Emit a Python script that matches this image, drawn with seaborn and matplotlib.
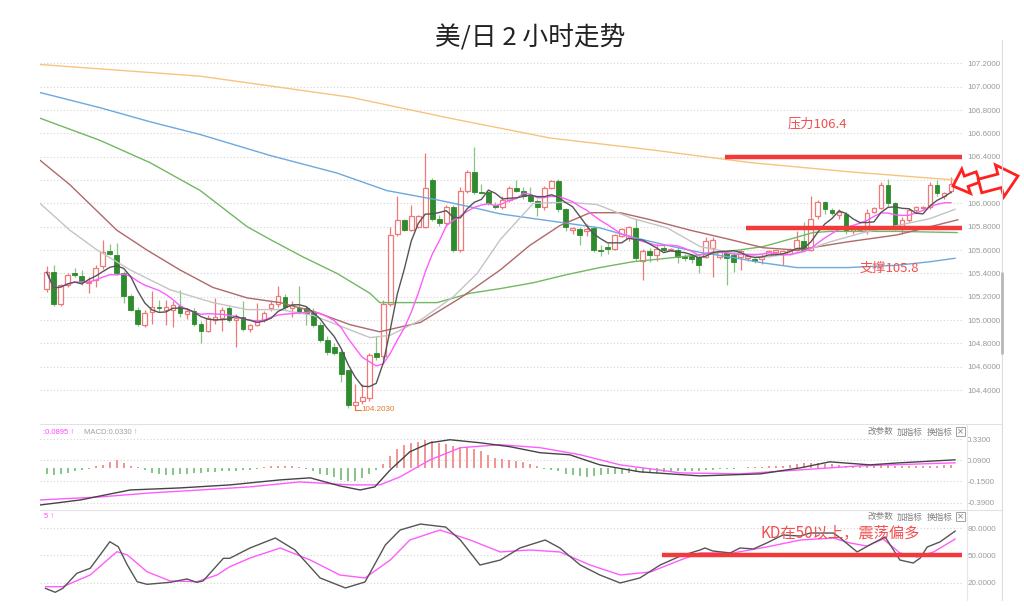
import numpy as np
import pandas as pd
import matplotlib
matplotlib.use("Agg")
import matplotlib.pyplot as plt
from matplotlib.patches import FancyArrow, Rectangle
import seaborn as sns

# ---------------- data ----------------
opens = [105.27,105.41,105.14,105.30,105.40,105.38,105.32,105.34,105.46,105.59,
         105.56,105.40,105.21,105.09,104.96,105.07,105.11,105.09,105.09,105.12,
         105.05,105.08,104.97,104.91,105.00,105.02,105.10,105.00,105.03,104.92,
         104.96,105.00,105.10,105.14,105.20,105.10,105.10,105.10,105.07,104.96,
         104.83,104.77,104.73,104.57,104.27,104.31,104.33,104.72,104.69,105.14,
         105.74,105.86,105.77,105.80,105.80,106.20,105.87,105.83,105.97,105.60,
         106.11,106.27,106.10,106.10,105.99,105.97,106.03,106.13,106.11,106.06,
         106.02,105.97,106.13,106.19,105.95,105.77,105.78,105.76,105.79,105.60,
         105.63,105.61,105.72,105.70,105.79,105.51,105.59,105.56,105.62,105.60,
         105.60,105.55,105.55,105.54,105.54,105.62,105.54,105.58,105.56,105.54,
         105.53,105.52,105.52,105.55,105.58,105.57,105.57,105.60,105.68,105.60,
         105.89,106.01,105.94,105.90,105.91,105.76,105.77,105.76,105.93,105.96,
         106.16,106.00,105.81,105.86,105.94,105.96,105.97,106.16,106.06,106.11]
highs = [105.46,105.47,105.31,105.40,105.45,105.43,105.37,105.47,105.69,105.65,
         105.66,105.42,105.22,105.11,105.09,105.25,105.17,105.17,105.16,105.26,
         105.10,105.10,104.99,105.04,105.19,105.11,105.12,105.05,105.16,104.97,
         105.15,105.08,105.16,105.29,105.22,105.16,105.29,105.12,105.10,104.98,
         104.86,104.80,104.75,104.57,104.45,104.45,104.72,104.86,105.17,105.80,
         106.06,105.87,105.99,105.90,106.43,106.22,105.90,105.99,105.99,106.14,
         106.29,106.48,106.17,106.11,106.01,106.06,106.15,106.20,106.14,106.14,
         106.04,106.15,106.20,106.21,105.96,105.80,105.80,105.82,105.81,105.64,
         105.66,105.74,105.79,105.81,105.87,105.61,105.62,105.65,105.64,105.62,
         105.63,105.57,105.57,105.56,105.71,105.71,105.59,105.60,105.60,105.60,
         105.57,105.53,105.57,105.60,105.60,105.60,105.62,105.76,105.84,106.06,
         106.03,106.02,105.96,105.95,105.93,105.80,105.80,105.95,105.97,106.18,
         106.21,106.01,105.88,105.96,105.98,105.98,106.18,106.20,106.10,106.23]
lows = [105.24,105.12,105.12,105.28,105.37,105.30,105.23,105.28,105.44,105.56,
        105.39,105.15,105.08,104.95,104.94,104.97,105.07,104.96,104.94,105.03,
        105.01,104.95,104.80,104.90,104.97,104.91,104.98,104.77,104.91,104.90,
        104.95,104.98,105.08,105.11,105.09,105.03,105.05,104.96,104.94,104.81,
        104.70,104.70,104.47,104.25,104.23,104.28,104.31,104.66,104.67,105.12,
        105.72,105.76,105.76,105.79,105.79,105.85,105.81,105.81,105.58,105.58,
        106.09,106.08,106.08,105.99,105.95,105.95,106.01,106.10,106.04,106.01,
        105.89,105.94,106.12,105.93,105.76,105.74,105.64,105.72,105.58,105.55,
        105.57,105.60,105.71,105.68,105.51,105.34,105.50,105.51,105.58,105.59,
        105.49,105.51,105.49,105.40,105.53,105.37,105.52,105.30,105.41,105.43,
        105.51,105.49,105.48,105.54,105.57,105.47,105.56,105.59,105.59,105.59,
        105.87,105.91,105.90,105.87,105.74,105.74,105.76,105.74,105.92,105.95,
        105.98,105.77,105.74,105.84,105.93,105.95,105.95,106.06,106.04,106.09]
closes = [105.41,105.14,105.30,105.39,105.39,105.33,105.33,105.45,105.58,105.57,
          105.40,105.21,105.09,104.97,105.06,105.11,105.10,105.11,105.13,105.06,
          105.08,104.97,104.91,105.02,105.03,105.09,105.00,105.02,104.92,104.96,
          105.00,105.06,105.14,105.21,105.11,105.13,105.07,105.06,104.96,104.83,
          104.73,104.72,104.54,104.27,104.30,104.34,104.70,104.68,105.14,105.73,
          105.86,105.77,105.89,105.89,106.13,105.87,105.83,105.97,105.60,106.11,
          106.27,106.10,106.09,106.00,105.97,106.03,106.13,106.11,106.06,106.02,
          105.97,106.13,106.19,105.95,105.80,105.79,105.73,105.78,105.60,105.59,
          105.61,105.73,105.78,105.80,105.53,105.59,105.56,105.61,105.60,105.61,
          105.54,105.53,105.52,105.47,105.68,105.69,105.58,105.53,105.50,105.59,
          105.55,105.51,105.55,105.59,105.60,105.59,105.60,105.69,105.60,105.87,
          106.01,105.95,105.92,105.93,105.76,105.78,105.79,105.92,105.96,106.16,
          106.00,105.81,105.86,105.94,105.97,105.97,106.16,106.09,106.09,106.17]

# long moving averages: (candle index, price)
ma20_x = [-0.96,3.3,7.2,11.9,17.6,23.7,28.6,33.3,38.0,46.1,49.0,53.3,58.0,61.4,64.7,69.4,74.2,78.5,83.6,88.5,93.2,97.5,102.2,107.0,111.7,116.5,121.3,126.0,129.6]
ma20_y = [106.00,105.77,105.60,105.43,105.26,105.15,105.09,105.09,105.04,104.85,104.87,105.00,105.20,105.40,105.69,106.00,106.01,105.99,105.87,105.79,105.63,105.58,105.54,105.57,105.67,105.75,105.81,105.87,105.95]
ma30_x = [-0.96,3.3,10.0,14.3,19.0,23.7,28.6,33.3,38.3,43.3,47.5,53.3,59.0,64.7,68.9,73.2,77.5,81.8,86.1,91.8,97.5,102.2,107.0,114.2,121.3,126.0,130.0]
ma30_y = [106.37,106.16,105.77,105.60,105.43,105.28,105.19,105.15,105.07,104.96,104.90,104.98,105.19,105.43,105.64,105.81,105.92,105.92,105.86,105.77,105.69,105.62,105.60,105.67,105.73,105.80,105.86]
ma60_x = [-0.96,7.6,14.7,21.9,28.6,31.9,36.6,41.4,46.1,47.5,50.8,55.7,60.4,64.7,69.4,74.2,78.9,83.6,88.5,93.2,97.5,102.2,107.0,109.3,111.7,121.3,129.9]
ma60_y = [106.73,106.54,106.35,106.11,105.80,105.69,105.54,105.40,105.23,105.15,105.15,105.15,105.23,105.27,105.32,105.39,105.45,105.50,105.53,105.56,105.59,105.63,105.71,105.75,105.76,105.76,105.75]
ma120_x = [-0.96,7.6,14.7,21.9,31.9,41.4,48.5,55.7,60.4,64.7,69.4,74.2,78.9,83.6,88.5,93.2,97.5,102.2,107.0,114.2,121.3,126.0,129.6]
ma120_y = [106.95,106.82,106.70,106.59,106.41,106.26,106.11,106.03,105.97,105.91,105.87,105.83,105.79,105.71,105.64,105.58,105.54,105.49,105.45,105.45,105.47,105.50,105.53]
ma200_x = [-0.96,21.9,43.3,57.5,71.8,86.1,100.3,114.6,129.6]
ma200_y = [107.19,107.09,106.91,106.73,106.56,106.46,106.35,106.27,106.20]

# MACD: histogram per candle, DIF / DEA read at sample points
macd_hist = [-0.06,-0.08,-0.07,-0.05,-0.03,-0.02,-0.01,0.02,0.04,0.07,
             0.09,0.06,0.03,0.01,-0.02,-0.05,-0.07,-0.08,-0.08,-0.07,
             -0.06,-0.05,-0.05,-0.04,-0.04,-0.03,-0.03,-0.03,-0.02,-0.02,
             -0.01,0.01,0.02,0.03,0.03,0.02,0.01,-0.01,-0.03,-0.06,
             -0.08,-0.10,-0.13,-0.15,-0.14,-0.11,-0.06,-0.02,0.05,0.14,
             0.22,0.26,0.29,0.30,0.32,0.31,0.28,0.27,0.25,0.24,
             0.24,0.22,0.19,0.15,0.12,0.10,0.09,0.08,0.07,0.05,
             0.03,-0.01,-0.02,-0.03,-0.06,-0.08,-0.09,-0.10,-0.09,-0.08,
             -0.07,-0.06,-0.06,-0.05,-0.04,-0.05,-0.05,-0.05,-0.04,-0.04,
             -0.03,-0.03,-0.03,-0.03,-0.02,-0.02,-0.01,-0.01,-0.01,0.00,
             0.01,0.01,0.01,0.02,0.02,0.03,0.04,0.05,0.06,0.06,
             0.06,0.05,0.05,0.04,0.03,0.03,0.03,0.04,0.05,0.05,
             0.04,0.03,0.02,0.02,0.03,0.03,0.03,0.03,0.04,0.04]
dif_x = [-0.96,4.8,11.9,19.0,26.1,33.3,37.6,41.8,44.7,46.8,49.0,51.8,54.7,57.5,61.8,66.1,70.4,74.6,78.9,84.6,93.2,101.8,107.5,111.7,117.4,121.7,129.6]
dif_y = [-0.416,-0.359,-0.246,-0.223,-0.189,-0.132,-0.109,-0.200,-0.246,-0.211,-0.019,0.186,0.288,0.322,0.288,0.243,0.175,0.152,0.038,-0.041,-0.087,-0.064,0.004,0.072,0.038,0.061,0.095]
dea_x = [-0.96,7.6,14.7,21.9,29.0,36.1,43.3,47.5,50.4,54.7,59.0,64.7,70.4,76.1,81.8,90.4,98.9,107.5,116.0,129.6]
dea_y = [-0.359,-0.325,-0.280,-0.246,-0.211,-0.155,-0.189,-0.189,-0.098,0.095,0.232,0.266,0.232,0.152,0.038,-0.053,-0.064,-0.019,0.027,0.061]

# KD read at sample points
k_x = [-0.2,1.2,2.3,4.3,6.2,7.6,9.0,10.2,11.5,12.9,14.3,17.6,20.0,21.4,22.3,25.2,26.1,29.0,32.6,35.4,39.0,42.6,45.4,48.3,50.4,53.3,56.9,59.0,61.8,64.7,67.5,71.1,73.2,76.1,78.9,81.8,84.6,87.5,90.4,93.2,93.9,95.0,97.5,98.9,100.8,102.7,105.0,107.5,108.9,112.2,113.2,115.6,117.9,119.6,121.7,123.6,124.6,125.6,127.4,129.6]
k_y = [13.8,9.4,13.8,30.4,35.9,50.5,65.2,59.7,39.5,21.1,18.2,20.4,24.1,20.4,21.9,46.9,46.9,58.3,69.3,56.1,25.2,14.2,20.8,61.6,78.1,84.7,81.4,67.1,39.5,45.0,58.3,67.1,58.3,39.5,28.5,19.7,25.2,39.5,49.4,56.1,58.3,55.0,52.8,58.3,57.2,63.8,72.6,71.5,74.8,74.8,69.3,53.9,63.8,70.4,45.0,41.7,47.2,59.4,64.9,77.0]
d_x = [-0.2,2.3,6.2,10.0,11.5,14.3,17.6,21.4,24.3,26.1,29.0,33.3,37.6,41.8,45.4,49.0,51.8,56.1,60.4,64.7,68.9,73.2,77.5,81.8,86.1,90.4,93.2,97.9,102.7,107.5,112.2,114.6,117.0,119.3,121.7,124.2,126.5,129.6]
d_y = [15.6,15.6,28.5,54.2,50.6,32.1,21.9,21.1,28.5,37.6,47.2,58.3,45.0,28.5,25.2,45.0,67.1,78.1,67.1,53.9,56.1,53.9,39.5,28.5,31.8,45.0,52.8,52.8,59.4,67.1,69.3,63.8,60.4,68.2,52.8,48.3,53.9,68.2]

price_ticks = [104.4,104.6,104.8,105.0,105.2,105.4,105.6,105.8,106.0,106.2,106.4,106.6,106.8,107.0,107.2]
macd_ticks = [0.33,0.09,-0.15,-0.39]
kd_ticks = [80,50,20]

# ---------------- style ----------------
sns.set_theme(style="white")
plt.rcParams['font.family'] = ['Noto Sans CJK SC', 'DejaVu Sans']
plt.rcParams['axes.unicode_minus'] = False

W, H = 1024, 606
fig = plt.figure(figsize=(W/100, H/100), dpi=100)
fig.patch.set_facecolor('white')

def rect(x0, y0, x1, y1):
    return [x0/W, 1-y1/H, (x1-x0)/W, (y1-y0)/H]

XLIM = (-0.96, 130.7)
RED_C = '#f07878'
GRN_BODY = '#2e8b2e'
GRN_WICK = '#86c486'
LBL = '#9a9a9a'

def style_axis(ax, ticks, fmt, ylim):
    ax.set_xlim(*XLIM)
    ax.set_ylim(*ylim)
    for s in ax.spines.values():
        s.set_visible(False)
    ax.set_xticks([])
    ax.yaxis.tick_right()
    ax.set_yticks(ticks)
    ax.set_yticklabels([fmt(t) for t in ticks], fontsize=5.8, color=LBL, family='Liberation Sans')
    ax.tick_params(axis='y', length=0, pad=3)
    ax.grid(axis='y', linestyle=(0, (1, 2)), color='#d4d4d4', linewidth=0.8)
    ax.grid(axis='x', visible=False)
    ax.set_xlabel('')
    ax.set_ylabel('')

df = pd.DataFrame({'i': np.arange(len(closes)), 'open': opens, 'high': highs,
                   'low': lows, 'close': closes})
df['ma5'] = df['close'].rolling(5, min_periods=1).mean()
df['ma10'] = df['close'].rolling(10, min_periods=1).mean()
up = df['close'] >= df['open']

# ---------------- main panel ----------------
ax = fig.add_axes(rect(40, 40, 963, 420))
style_axis(ax, price_ticks, lambda t: f"{t:.4f}", (104.144, 107.40))

wick_cols = [RED_C if u else GRN_WICK for u in up]
ax.vlines(df['i'], df['low'], df['high'], colors=wick_cols, linewidth=0.9, zorder=2)
body_bot = np.minimum(df['open'], df['close'])
body_h = np.maximum(np.abs(df['close'] - df['open']), 0.006)
ax.bar(df['i'][up], body_h[up], bottom=body_bot[up], width=0.68,
       facecolor='white', edgecolor=RED_C, linewidth=0.9, zorder=2.5)
ax.bar(df['i'][~up], body_h[~up], bottom=body_bot[~up], width=0.68,
       facecolor=GRN_BODY, edgecolor=GRN_BODY, linewidth=0.6, zorder=2.5)

line_kw = dict(ax=ax, estimator=None, sort=False, legend=False, linewidth=1.0, zorder=3)
sns.lineplot(x=ma200_x, y=ma200_y, color='#f6c47f', **line_kw)
sns.lineplot(x=ma120_x, y=ma120_y, color='#6aa9e0', **line_kw)
sns.lineplot(x=ma60_x, y=ma60_y, color='#72b862', **line_kw)
sns.lineplot(x=ma30_x, y=ma30_y, color='#b06868', **line_kw)
sns.lineplot(x=ma20_x, y=ma20_y, color='#c4c4c4', **line_kw)
sns.lineplot(x=df['i'], y=df['ma10'], color='#ff5cff', **line_kw)
sns.lineplot(x=df['i'], y=df['ma5'], color='#555555', **line_kw)
ax.set_xlim(*XLIM)
ax.set_ylim(104.144, 107.40)
ax.set_xlabel(''); ax.set_ylabel('')

# resistance / support
ax.hlines(106.4, 96.8, 130.6, colors='#f23a3a', linewidth=3.2, zorder=4)
ax.hlines(105.79, 99.8, 130.6, colors='#f23a3a', linewidth=3.2, zorder=4)
ax.text(110.0, 106.68, '压力106.4', color='#f25050', fontsize=9.5, ha='center', va='center')
ax.text(120.2, 105.445, '支撑105.8', color='#f25050', fontsize=9.5, ha='center', va='center', zorder=5)

# low marker
imin = int(np.argmin(lows))
ax.plot([imin, imin, imin + 0.8], [lows[imin] + 0.03, lows[imin], lows[imin]], color='#e8782a', lw=0.8, zorder=4)
ax.text(imin + 0.9, lows[imin], '104.2030', color='#e8782a', fontsize=5.8, va='center', ha='left',
        family='Liberation Sans')

# ---------------- MACD panel ----------------
axm = fig.add_axes(rect(40, 424, 963, 508))
style_axis(axm, macd_ticks, lambda t: f"{t:.4f}", (-0.45, 0.50))
hcols = ['#f08a8a' if v >= 0 else '#7cbf7c' for v in macd_hist]
axm.vlines(df['i'], 0, macd_hist, colors=hcols, linewidth=1.3, zorder=2)
mk = dict(ax=axm, estimator=None, sort=False, legend=False, linewidth=1.0, zorder=3)
sns.lineplot(x=dea_x, y=dea_y, color='#ff5cff', **mk)
sns.lineplot(x=dif_x, y=dif_y, color='#444444', **mk)
axm.set_xlim(*XLIM); axm.set_ylim(-0.45, 0.50)
axm.set_xlabel(''); axm.set_ylabel('')

# ---------------- KD panel ----------------
axk = fig.add_axes(rect(40, 510, 963, 600))
style_axis(axk, kd_ticks, lambda t: f"{t:.4f}", (0.9, 100.2))
kk = dict(ax=axk, estimator=None, sort=False, legend=False, linewidth=1.0, zorder=3)
sns.lineplot(x=d_x, y=d_y, color='#ff5cff', **kk)
sns.lineplot(x=k_x, y=k_y, color='#555555', **kk)
axk.hlines(50, 87.8, 130.6, colors='#f23a3a', linewidth=3.2, zorder=4)
axk.text(113.2, 74.8, 'KD在50以上，震荡偏多', color='#f25050', fontsize=11, ha='center', va='center', zorder=5)
axk.set_xlim(*XLIM); axk.set_ylim(0.9, 100.2)
axk.set_xlabel(''); axk.set_ylabel('')

# ---------------- overlay: frame, headers, arrows ----------------
ov = fig.add_axes([0, 0, 1, 1], zorder=10)
ov.set_xlim(0, W); ov.set_ylim(H, 0); ov.axis('off'); ov.patch.set_alpha(0)
ov.plot([40, 1002], [424, 424], color='#e2e2e2', lw=0.8)
ov.plot([40, 1002], [510, 510], color='#e2e2e2', lw=0.8)
ov.plot([1002, 1002], [40, 600], color='#dcdcdc', lw=0.8)
ov.plot([967, 967], [424, 600], color='#e6e6e6', lw=0.8)
ov.plot([1002, 1002], [273, 353], color='#b8b8b8', lw=2.0)

fig.text(530/W, 1-38/H, '美/日 2 小时走势', ha='center', va='center', fontsize=18.5, color='#222222')

ov.text(43, 432, ':0.0895 ↑', color='#ff44ff', fontsize=5.5, va='center', family=['Liberation Sans', 'DejaVu Sans'])
ov.text(84, 432, 'MACD:0.0330 ↑', color='#a0a0a0', fontsize=5.5, va='center', family=['Liberation Sans', 'DejaVu Sans'])
ov.text(44, 517, '5 ↑', color='#ff44ff', fontsize=5.5, va='center', family=['Liberation Sans', 'DejaVu Sans'])
for yy in (432, 517):
    for xx, t in ((880, '改参数'), (910, '加指标'), (940, '换指标')):
        ov.text(xx, yy, t, color='#808080', fontsize=6.2, ha='center', va='center')
    ov.add_patch(Rectangle((955.5, yy - 5), 9, 9, facecolor='white', edgecolor='#a0a0a0', lw=0.7))
    ov.text(960, yy - 0.5, '×', color='#808080', fontsize=6, ha='center', va='center', family='DejaVu Sans')

ov.add_patch(FancyArrow(978, 177, -25, 9, width=11, head_width=26, head_length=14,
                        length_includes_head=True, facecolor='white', edgecolor='#ff2020', lw=2))
ov.add_patch(FancyArrow(980, 186, 38, -10, width=14, head_width=33, head_length=19,
                        length_includes_head=True, facecolor='white', edgecolor='#ff2020', lw=2))

fig.savefig('out.png', dpi=100, facecolor='white')
